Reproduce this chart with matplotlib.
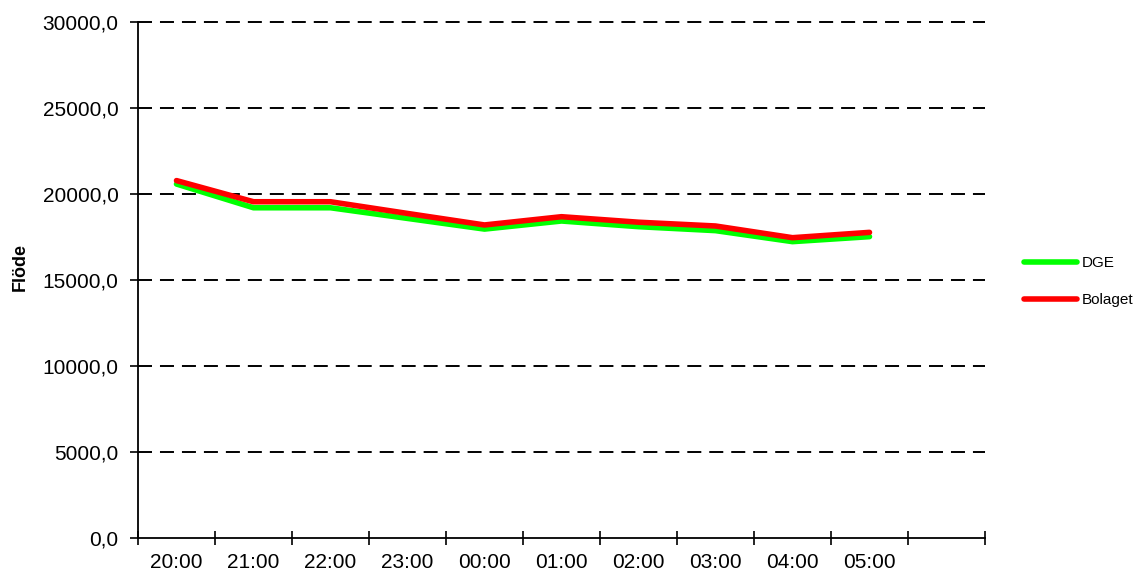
import numpy as np
import matplotlib
matplotlib.use("Agg")
import matplotlib.pyplot as plt

plt.rcParams['font.family'] = ['Liberation Sans', 'DejaVu Sans']

hours = ["20:00", "21:00", "22:00", "23:00", "00:00",
         "01:00", "02:00", "03:00", "04:00", "05:00"]
dge = [20580, 19200, 19200, 18580, 17960, 18430, 18100, 17870, 17230, 17520]
bolaget = [20780, 19550, 19550, 18870, 18200, 18680, 18360, 18140, 17460, 17770]
y_ticks = [0, 5000, 10000, 15000, 20000, 25000, 30000]

fig = plt.figure(figsize=(11.37, 5.75), dpi=100)
ax = fig.add_axes([138/1137, 37/575, (985-138)/1137, (538-22)/575])

x = np.arange(len(hours))
ax.plot(x, dge, color="#00ff00", lw=4.0, solid_capstyle="round", solid_joinstyle="round", label="DGE", zorder=3)
ax.plot(x, bolaget, color="#ff0000", lw=4.0, solid_capstyle="round", solid_joinstyle="round", label="Bolaget", zorder=4)

ax.set_xlim(-0.5, 10.5)
ax.set_ylim(0, 30000)

# dashed gridlines
for v in y_ticks[1:]:
    ax.axhline(v, color="black", lw=1.4, dashes=(7.2, 4.1), zorder=1, clip_on=False)

ax.set_yticks(y_ticks)
ax.set_yticklabels([f"{v},0" for v in y_ticks])
ax.tick_params(axis="y", direction="out", length=6, width=1.2, pad=8, labelsize=15)

ax.set_xticks(np.arange(-0.5, 11, 1.0))
ax.set_xticklabels([])
ax.set_xticks(x, minor=True)
ax.set_xticklabels(hours, minor=True)
ax.tick_params(axis="x", which="major", direction="inout", length=10, width=1.2)
ax.tick_params(axis="x", which="minor", length=0, pad=11, labelsize=15)

for s in ["top", "right"]:
    ax.spines[s].set_visible(False)
for s in ["left", "bottom"]:
    ax.spines[s].set_linewidth(1.3)

fig.text(20/1137, 1 - 267/575, "Flöde", rotation=90, fontsize=13, fontweight="bold",
         ha="center", va="center")

fig.legend(loc="upper left", bbox_to_anchor=(1024/1137, 1 - 256/575), frameon=False,
           fontsize=11, handlelength=3.45, handletextpad=0.35, labelspacing=1.5,
           borderaxespad=0, borderpad=0)

fig.savefig("out.png", dpi=100)
